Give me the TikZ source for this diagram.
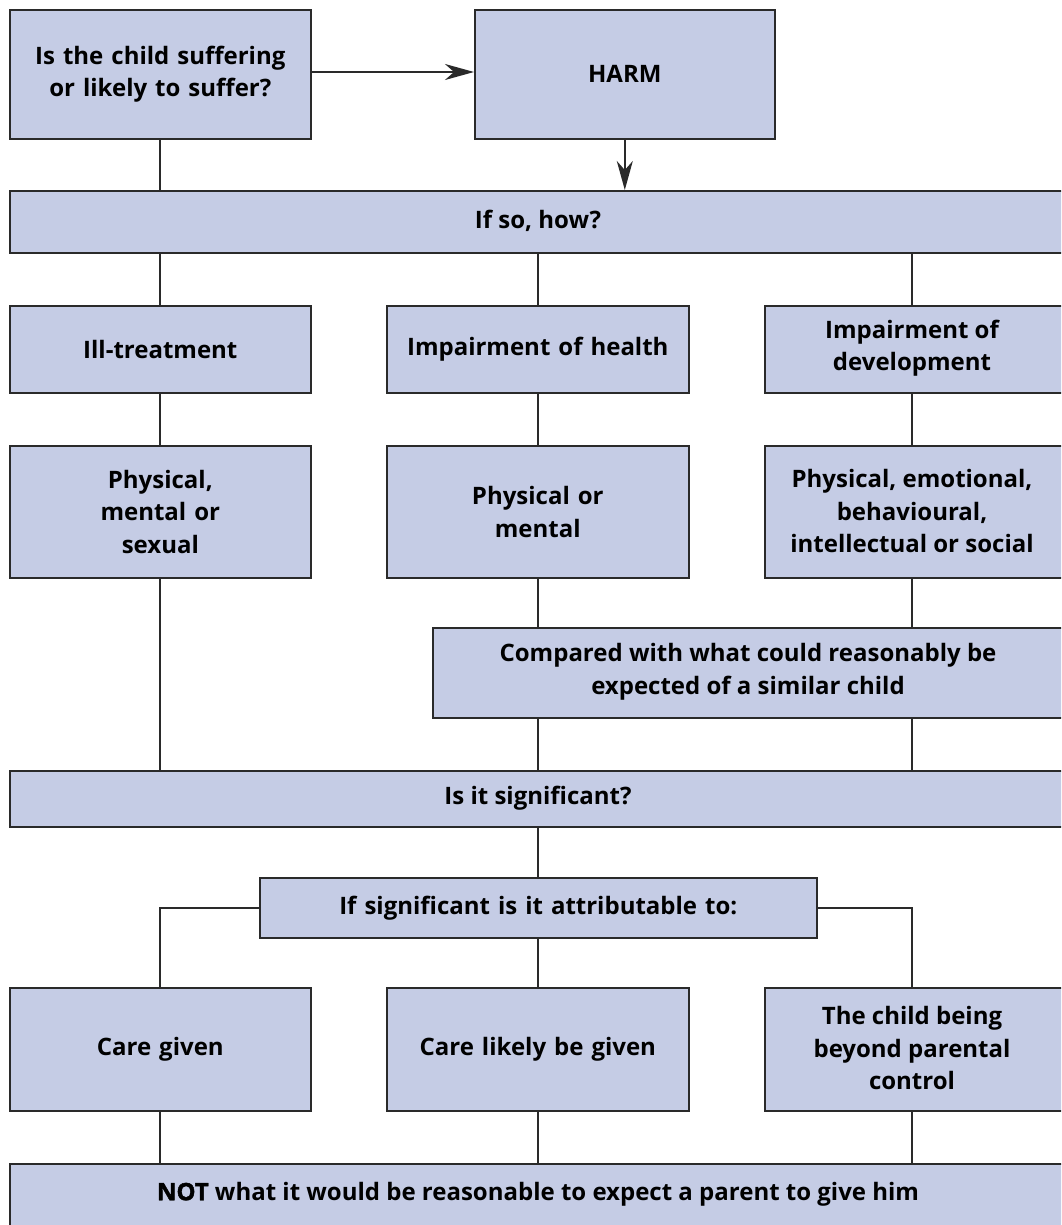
\documentclass[tikz,border=0pt]{standalone}
\usepackage{fontspec}
\setmainfont{Open Sans}
\newfontfamily\heavyfont[BoldFeatures={FakeBold=1.5}]{Open Sans}
\usetikzlibrary{arrows.meta}
\definecolor{boxfill}{HTML}{C5CCE5}
\definecolor{edge}{HTML}{2A2A2A}
\tikzset{
  txt/.style={font=\fontsize{24}{32.5}\selectfont\bfseries, align=center},
  bx/.style={draw=edge, line width=1.6pt, fill=boxfill, txt, anchor=north west, inner sep=0pt},
  ln/.style={draw=edge, line width=2pt},
  ar/.style={ln, -{Stealth[length=29pt, width=16pt, inset=9pt]}}
}
\newcommand{\mkbox}[6]{% name, x1, y1, x2, y2, text
  \node[bx, minimum width={#4-#2}, minimum height={#5-#3}, text width={#4-#2-10}] (#1) at (#2,#3) {#6};}
\begin{document}
\begin{tikzpicture}[x=1pt, y=-1pt]
\useasboundingbox (0,0) rectangle (1061,1225);
\clip (0,0) rectangle (1061,1225);
\mkbox{q}{9}{9}{310}{138}{Is the child suffering\\or likely to suffer?}
\mkbox{harm}{474}{9}{774}{138}{HARM}
\mkbox{how}{9}{190}{1080}{252}{\hspace*{0pt}}
\node[txt] (howt) at (538,221) {If so, how?};
\mkbox{ill}{9}{305}{310}{392}{Ill-treatment}
\mkbox{health}{386}{305}{688}{392}{Impairment of health}
\mkbox{dev}{764}{305}{1080}{392}{\hspace*{0pt}}
\node[txt] (devt) at (912,348) {Impairment of\\development};
\mkbox{pms}{9}{445}{310}{577}{Physical,\\mental or\\sexual}
\mkbox{pm}{386}{445}{688}{577}{Physical or\\mental}
\mkbox{peb}{764}{445}{1080}{577}{\hspace*{0pt}}
\node[txt] (pebt) at (912,511) {Physical, emotional,\\behavioural,\\intellectual or social};
\mkbox{comp}{432}{627}{1080}{717}{\hspace*{0pt}}
\node[txt] (compt) at (748,672) {Compared with what could reasonably be\\expected of a similar child};
\mkbox{sig}{9}{770}{1080}{826}{\hspace*{0pt}}
\node[txt] (sigt) at (538,798) {Is it significant?};
\mkbox{attr}{259}{877}{816}{937}{If significant is it attributable to:}
\mkbox{cg}{9}{987}{310}{1110}{Care given}
\mkbox{cl}{386}{987}{688}{1110}{Care likely be given}
\mkbox{ch}{764}{987}{1080}{1110}{\hspace*{0pt}}
\node[txt] (cht) at (912,1048) {The child being\\beyond parental\\control};
\mkbox{not}{9}{1163}{1080}{1240}{\hspace*{0pt}}
\node[txt] (nott) at (538,1194) {{\heavyfont NOT} what it would be reasonable to expect a parent to give him};
% connectors
\draw[ar] (q.east |- 0,72) -- (harm.west |- 0,72);
\draw[ar] (harm.south) -- (harm.south |- how.north);
\draw[ln] (q.south) -- (q.south |- how.north);
\draw[ln] (ill.north) -- (ill.north |- how.south);
\draw[ln] (health.north) -- (health.north |- how.south);
\draw[ln] (912,252) -- (912,305);
\draw[ln] (ill.south) -- (pms.north);
\draw[ln] (health.south) -- (pm.north);
\draw[ln] (912,392) -- (912,445);
\draw[ln] (pm.south) -- (pm.south |- comp.north);
\draw[ln] (912,577) -- (912,627);
\draw[ln] (pms.south) -- (pms.south |- sig.north);
\draw[ln] (538,717) -- (538,770);
\draw[ln] (912,717) -- (912,770);
\draw[ln] (538,826) -- (538,877);
\draw[ln] (attr.west) -| (cg.north);
\draw[ln] (attr.east) -| (912,987);
\draw[ln] (cl.north |- attr.south) -- (cl.north);
\draw[ln] (cg.south) -- (cg.south |- not.north);
\draw[ln] (cl.south) -- (cl.south |- not.north);
\draw[ln] (912,1110) -- (912,1163);
\end{tikzpicture}
\end{document}
